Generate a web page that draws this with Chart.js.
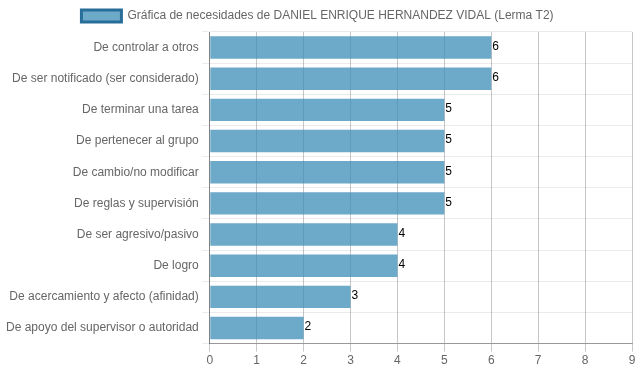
<!DOCTYPE html>
<html>
<head>
<meta charset="utf-8">
<script src="https://cdn.jsdelivr.net/npm/chart.js@4"></script>
<style>
  html, body { margin: 0; padding: 0; background: #fff; }
  .chart-container { width: 639px; height: 372px; }
</style>
</head>
<body>
<div class="chart-container">
  <canvas id="barChart" width="639" height="372"></canvas>
</div>
<script>
// Data
const seriesName = "Gráfica de necesidades de DANIEL ENRIQUE HERNANDEZ VIDAL (Lerma T2)";
const categories = [
  "De controlar a otros",
  "De ser notificado (ser considerado)",
  "De terminar una tarea",
  "De pertenecer al grupo",
  "De cambio/no modificar",
  "De reglas y supervisión",
  "De ser agresivo/pasivo",
  "De logro",
  "De acercamiento y afecto (afinidad)",
  "De apoyo del supervisor o autoridad"
];
const values = [6, 6, 5, 5, 5, 5, 4, 4, 3, 2];
const xMin = 0;
const xMax = 9;

// value labels at the end of each bar
const valueLabels = {
  id: 'valueLabels',
  afterDatasetsDraw(chart) {
    const ctx = chart.ctx;
    const meta = chart.getDatasetMeta(0);
    ctx.save();
    ctx.font = '12px "Liberation Sans", Arial, sans-serif';
    ctx.fillStyle = '#000';
    ctx.textAlign = 'left';
    ctx.textBaseline = 'middle';
    meta.data.forEach((bar, i) => {
      ctx.fillText(values[i], bar.x + 1, bar.y - 1);
    });
    ctx.restore();
  }
};

Chart.defaults.font.family = '"Liberation Sans", Arial, sans-serif';
Chart.defaults.font.size = 12;
Chart.defaults.color = '#666';

new Chart(document.getElementById('barChart').getContext('2d'), {
  type: 'bar',
  data: {
    labels: categories,
    datasets: [{
      label: seriesName,
      data: values,
      backgroundColor: 'rgba(60,140,182,0.75)',
      borderColor: 'rgb(40,110,155)',
      borderWidth: 0
    }]
  },
  options: {
    indexAxis: 'y',
    responsive: false,
    animation: false,
    layout: { padding: { left: 3, right: 7, top: 0, bottom: 2 } },
    plugins: {
      legend: {
        position: 'top',
        labels: {
          boxWidth: 40,
          boxHeight: 12,
          padding: 10,
          generateLabels(chart) {
            const items = Chart.defaults.plugins.legend.labels.generateLabels(chart);
            items.forEach(it => {
              it.lineWidth = 3;
              it.strokeStyle = 'rgb(40,110,155)';
            });
            return items;
          }
        }
      },
      tooltip: { enabled: false }
    },
    scales: {
      x: {
        min: xMin,
        max: xMax,
        ticks: { stepSize: 1, color: '#666', padding: 2 },
        grid: { color: 'rgba(0,0,0,0.22)', tickLength: 8 },
        border: { color: 'rgba(0,0,0,0.35)' }
      },
      y: {
        ticks: { color: '#666' },
        grid: { color: 'rgba(0,0,0,0.08)', offset: true },
        border: { color: 'rgba(0,0,0,0.35)' }
      }
    }
  },
  plugins: [valueLabels]
});
</script>
</body>
</html>
